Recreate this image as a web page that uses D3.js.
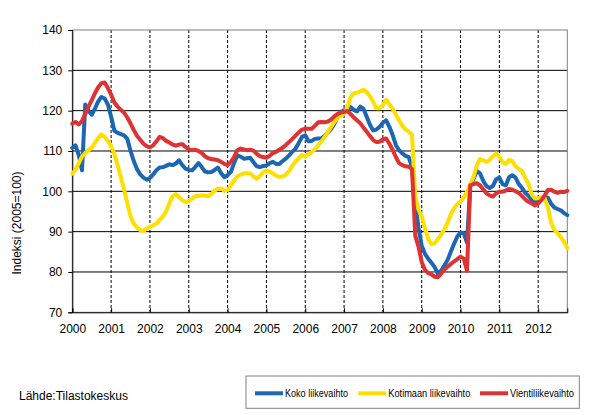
<!DOCTYPE html>
<html><head><meta charset="utf-8">
<script src="https://cdn.jsdelivr.net/npm/d3@7"></script>
<style>body{margin:0;background:#fff}svg{display:block;font-family:"Liberation Sans",Arial,sans-serif}</style>
</head><body>
<svg id="c" width="592" height="415"></svg>
<script>
const years = ["2000","2001","2002","2003","2004","2005","2006","2007","2008","2009","2010","2011","2012"];
const yTicks = [70,80,90,100,110,120,130,140];
const seriesNames = ["Koko liikevaihto","Kotimaan liikevaihto","Vientiliikevaihto"];
const seriesColors = ["#1c67b3","#ffdf00","#df3232"];
// monthly values, Jan 2000 .. Oct 2012
const koko = [
110.8,111.4,109,105.2,121.5,120,119,120.5,122.3,123.4,123,121.5,
118.5,115,114.5,114.2,113.9,113,110,107.5,105.5,104.2,103.4,102.9,
103.3,104.2,105.2,105.9,106,106.3,106.7,106.5,106.9,107.7,106.5,105.6,
105.3,105.2,106,107,106,104.9,104.7,104.8,105.3,105.9,104.5,103.5,
104,104.8,107,108.9,108.6,108.1,108.2,108.3,107.2,106.2,106,106.3,
106.4,107,107.3,106.8,106.8,107.5,108.1,108.9,109.8,110.6,112,113.5,
113.9,112.4,112.5,113,113.1,113.1,113.8,114.6,115.5,116.7,118.5,119.7,
120.1,120.4,120.9,120.2,119.8,121,120.5,118.5,116.5,115.1,115.3,116,
117,117.6,116,114,111.5,110.2,109.4,108.8,108.5,106,97,91,
86.5,84.5,83.3,82.3,81.2,79.6,80.3,81.6,83,85,87,88.8,
89.8,89.6,87.3,101.5,103,105,104.5,102.6,101.3,100.8,101.3,103,
103.4,101.8,101.5,103.5,104,103.4,101.8,100.8,99.6,98.9,97.9,97.4,
97.6,98.2,98.6,98.4,96.9,96,95.6,95.3,94.6,94.1];
const kotimaa = [
104.4,105.3,107,108.6,109.5,110.2,110.8,112,113.2,114.1,113.5,112.5,
111.2,109.2,106.5,103.5,100.5,97,93.8,92,91,90.4,90.2,90.8,
91.2,91.6,92,92.9,93.8,95,97,98.8,99.3,98.5,97.8,97.4,
97.6,98.2,98.8,98.9,99,98.9,98.8,99.3,100.2,100.6,100.7,100.1,
100.3,101.5,102.7,103.7,104.1,104.5,104.5,104.4,103.7,103.1,103.8,104.7,
105.2,104.9,104.4,103.9,103.6,103.7,104.1,105,106.3,107.4,108.2,109,
108.6,109.2,109.7,110.5,111.4,112.4,113.5,114.8,116,117.2,118.3,118.7,
119.2,120.8,123.3,124.3,124.5,124.8,125.2,124.6,123.6,122.2,120.6,120.6,
121.4,122.7,121.6,120.5,119,117.6,116.3,115.3,114.8,114,98.5,95.5,
93.8,90.8,88.2,86.9,87.1,88.2,89.3,90.6,92.2,94.3,95.8,96.8,
97.5,98.5,99.8,101.8,103.5,106.4,108,107.7,107.3,107.8,108.7,109.4,
108.6,107.2,106.8,107.8,107.5,106.2,105.6,105,103.3,101.9,99.2,98.2,
98.3,98.5,98.3,96,92.2,90.5,89.6,88.6,87.5,85.9];
const vienti = [
116.8,117.2,116.6,117.4,119.2,121,122.6,124.3,125.8,126.8,127,125.6,
124,122,121,120.2,119.5,118.3,116.8,115.2,113.8,112.8,111.8,111.2,
110.9,111.4,112.4,113.5,113.2,112.5,112.1,111.6,111.3,111.6,111.7,111,
110.4,110.2,110.3,110,109.5,108.7,108.2,108,107.9,107.7,107.3,106.8,
106.5,107.3,108.5,110.2,110.6,110.4,110.2,110.3,110.1,109.3,108.7,108.5,
108.3,108.8,109.5,109.8,110.3,110.8,111.5,112.2,113,113.8,114.6,115.3,
115.5,115.5,115.5,116.3,117.1,117.2,117.1,117.3,117.8,118.6,119.2,119.5,
119.7,119.9,119.2,118.3,117.6,116.9,115.8,114.8,113.7,112.7,112.2,112.3,
112.9,113.1,111.8,110.3,108.5,107,106.5,106.2,106.1,105.5,89,86.3,
82.5,80.5,79.7,79.4,78.8,78.7,79.6,80.6,81.3,82,82.6,83.2,
83.8,83.3,80.3,101.5,101.8,102,101.5,100.5,99.5,99,98.7,99.5,
99.9,99.9,100.2,100.6,100.4,100,99.6,98.8,98,97.4,97,96.5,
97,97.8,99,100.3,100.4,99.9,99.6,99.9,99.8,100.1];
const series = [koko, kotimaa, vienti];

const svg = d3.select("#c");
const L = 72.3, R = 567.3, T = 30, B = 312.3;
const n = koko.length;
const x = d3.scaleLinear().domain([0, n - 1]).range([L, R]);
const y = d3.scaleLinear().domain([70, 140]).range([B, T]);

// horizontal gridlines
svg.append("g").selectAll("line").data(yTicks.filter(v => v > 70 && v < 140)).join("line")
  .attr("x1", L).attr("x2", R).attr("y1", d => y(d)).attr("y2", d => y(d))
  .attr("stroke", "#000").attr("stroke-width", 1);
// vertical dashed year lines
svg.append("g").selectAll("line").data(years.slice(1)).join("line")
  .attr("x1", (d, i) => x((i + 1) * 12)).attr("x2", (d, i) => x((i + 1) * 12))
  .attr("y1", T).attr("y2", B)
  .attr("stroke", "#000").attr("stroke-width", 1).attr("stroke-dasharray", "3,2");
// plot border
svg.append("rect").attr("x", L).attr("y", T).attr("width", R - L).attr("height", B - T)
  .attr("fill", "none").attr("stroke", "#808080").attr("stroke-width", 1);

// y axis
const ya = svg.append("g").attr("transform", `translate(${L},0)`)
  .call(d3.axisLeft(y).tickValues(yTicks).tickSize(4).tickPadding(6));
ya.select(".domain").attr("stroke", "#000");
ya.selectAll("text").attr("font-size", 12).attr("fill", "#000").attr("font-family", "Liberation Sans, Arial, sans-serif");
// x axis
const xa = svg.append("g").attr("transform", `translate(0,${B})`)
  .call(d3.axisBottom(x).tickValues(years.map((d, i) => i * 12)).tickFormat((d, i) => years[i]).tickSize(-4).tickPadding(12));
xa.select(".domain").attr("stroke", "#000");
xa.selectAll("text").attr("font-size", 12).attr("fill", "#000").attr("font-family", "Liberation Sans, Arial, sans-serif");

// lines
const line = d3.line().x((d, i) => x(i)).y(d => y(d)).curve(d3.curveLinear);
svg.append("g").selectAll("path").data(series).join("path")
  .attr("d", line).attr("fill", "none")
  .attr("stroke", (d, i) => seriesColors[i]).attr("stroke-width", 4)
  .attr("stroke-linejoin", "round").attr("stroke-linecap", "round");

// y title
svg.append("text").attr("transform", "translate(21,223) rotate(-90)")
  .attr("text-anchor", "middle").attr("font-size", 12).text("Indeksi (2005=100)");
// source
svg.append("text").attr("x", 19).attr("y", 400).attr("font-size", 12).text("Lähde:Tilastokeskus");

// legend
svg.append("rect").attr("x", 246).attr("y", 376).attr("width", 333.3).attr("height", 32.3)
  .attr("fill", "#fff").attr("stroke", "#808080").attr("stroke-width", 1);
const legX = [255, 358.3, 480];
const legW = [63, 82, 64];
const lg = svg.append("g").selectAll("g").data(seriesNames).join("g")
  .attr("transform", (d, i) => `translate(${legX[i]},393.3)`);
lg.append("line").attr("x1", 0).attr("x2", 28).attr("y1", 0).attr("y2", 0)
  .attr("stroke", (d, i) => seriesColors[i]).attr("stroke-width", 4);
lg.append("text").attr("x", 30).attr("y", 3.6).attr("font-size", 10)
  .attr("textLength", (d, i) => legW[i]).attr("lengthAdjust", "spacingAndGlyphs").text(d => d);
</script>
</body></html>
